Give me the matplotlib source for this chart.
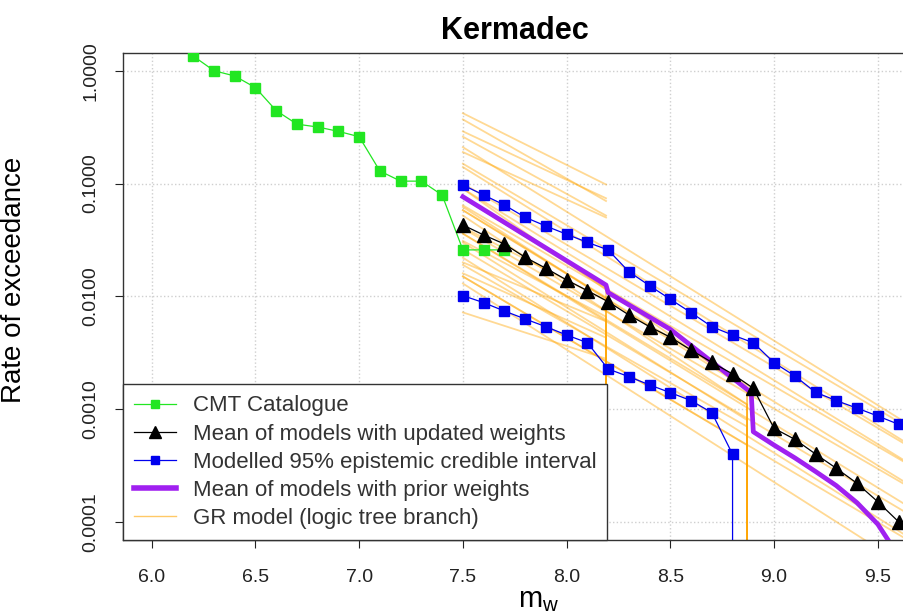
import matplotlib.pyplot as plt
from matplotlib.lines import Line2D

plt.rcParams['font.family'] = ['Liberation Sans', 'DejaVu Sans']

# CMT catalogue, observed exceedance rates
cmt_mw = [6.2, 6.3, 6.4, 6.5, 6.6, 6.7, 6.8, 6.9, 7.0, 7.1, 7.2, 7.3, 7.4, 7.5, 7.6, 7.7]
cmt_rate = [1.35, 1.00, 0.898, 0.708, 0.443, 0.336, 0.317, 0.290, 0.260, 0.129,
            0.105, 0.105, 0.079, 0.0258, 0.0258, 0.0258]

# model magnitudes
model_mw = [7.5, 7.6, 7.7, 7.8, 7.9, 8.0, 8.1, 8.2, 8.3, 8.4, 8.5,
            8.6, 8.7, 8.8, 8.9, 9.0, 9.1, 9.2, 9.3, 9.4, 9.5, 9.6]
mean_updated = [0.0429, 0.0350, 0.0291, 0.0222, 0.01773, 0.01397, 0.01123, 0.00897,
                0.00684, 0.00538, 0.00434, 0.00334, 0.00260, 0.00205, 0.00153,
                0.000676, 0.000540, 0.000400, 0.000299, 0.000220, 0.000151, 0.0001005]
upper95 = [0.0970, 0.0791, 0.0645, 0.0502, 0.0420, 0.0355, 0.0301, 0.0258,
           0.01654, 0.01243, 0.00942, 0.00717, 0.00538, 0.00454, 0.00388,
           0.00258, 0.00197, 0.00141, 0.00119, 0.00102, 0.000869, 0.000734]
lower_mw = [7.5, 7.6, 7.7, 7.8, 7.9, 8.0, 8.1, 8.2, 8.3, 8.4, 8.5, 8.6, 8.7, 8.8, 8.9]
lower95 = [0.01014, 0.00879, 0.00741, 0.00630, 0.00538, 0.00454, 0.00388, 0.00227,
           0.00194, 0.00164, 0.00140, 0.00119, 0.000931, 0.000398, 0.0]

# mean of models with prior weights
prior_mw = [7.5, 8.19, 8.2, 8.5, 8.89, 8.9, 9.0, 9.1, 9.2, 9.3, 9.4, 9.5, 9.6]
prior_rate = [0.0763, 0.0126, 0.0108, 0.0051, 0.00140, 0.00063, 0.00048,
              0.00037, 0.00028, 0.00021, 0.000148, 0.0000955, 0.00005]

# GR logic tree branches: rate at Mw 7.5, last magnitude, rate there, drops to zero
gr_start = [0.42, 0.37, 0.29, 0.26, 0.19, 0.075, 0.058, 0.041, 0.031, 0.020, 0.016, 0.0072,
            0.090, 0.062, 0.052, 0.036, 0.030, 0.019, 0.015,
            0.21, 0.15, 0.14, 0.10, 0.090, 0.064, 0.058, 0.040, 0.036, 0.026, 0.022, 0.015, 0.013]
gr_end_mw = [8.19] * 12 + [8.87] * 7 + [9.64] * 13
gr_end = [0.098, 0.070, 0.074, 0.052, 0.050, 0.012, 0.0098, 0.0092, 0.0066, 0.0060, 0.0043, 0.0028,
          0.0015, 0.0015, 0.0011, 0.0011, 0.0008, 0.0007, 0.00048,
          0.00075, 0.00070, 0.00050, 0.00048, 0.00034, 0.00033, 0.00022, 0.00021,
          0.00014, 0.00012, 0.000075, 0.00007, 0.00004]
gr_drop = [False] * 5 + [True] * 7 + [True] * 7 + [False] * 13

fig = plt.figure(figsize=(9.04, 6.16), dpi=100)
ax = fig.add_axes([0.1357, 0.1234, 0.8674, 0.7911])
ax.set_yscale('log')

orange = '#ffa500'
for r0, m1, r1, drop in zip(gr_start, gr_end_mw, gr_end, gr_drop):
    xs = [7.5, m1]
    ys = [r0, r1]
    if drop:
        xs.append(m1)
        ys.append(0.0)
    ax.plot(xs, ys, color=orange, lw=1.3, alpha=0.42, zorder=2)

ax.plot(prior_mw, prior_rate, color='#a020f0', lw=3.4, zorder=3)
ax.plot(model_mw, upper95, color='#0000ee', lw=0.9, marker='s', ms=7, zorder=4)
ax.plot(lower_mw, lower95, color='#0000ee', lw=0.9, marker='s', ms=7, zorder=4)
ax.plot(cmt_mw, cmt_rate, color='#22e622', lw=0.9, marker='s', ms=6.5, zorder=4)
ax.plot(model_mw, mean_updated, color='black', lw=0.9, marker='^', ms=10, zorder=5)

ax.set_xlim(5.86, 9.64)
ax.set_ylim(10 ** -4.16, 10 ** 0.16)

ax.set_xticks([6.0, 6.5, 7.0, 7.5, 8.0, 8.5, 9.0, 9.5])
ax.set_xticklabels(['6.0', '6.5', '7.0', '7.5', '8.0', '8.5', '9.0', '9.5'])
ax.set_yticks([1e-4, 1e-3, 1e-2, 1e-1, 1.0])
ax.set_yticklabels(['0.0001', '0.0010', '0.0100', '0.1000', '1.0000'],
                   rotation=90, va='center')
ax.minorticks_off()
ax.tick_params(axis='both', direction='out', length=6, width=0.8,
               labelsize=14, colors='#222222')
ax.tick_params(axis='x', pad=15)
ax.tick_params(axis='y', pad=11)
ax.grid(True, color='#cfcfcf', linestyle=':', lw=1)
ax.set_axisbelow(True)
for s in ax.spines.values():
    s.set_color('#333333')
    s.set_linewidth(1)

ax.set_title('Kermadec', fontsize=22, fontweight='bold', pad=10)
ax.set_xlabel(r'$\mathregular{m_w}$', fontsize=21)
ax.xaxis.set_label_coords(0.531, -0.095)
ax.set_ylabel('Rate of exceedance', fontsize=20)
ax.yaxis.set_label_coords(-0.122, 0.533)

handles = [
    Line2D([], [], color='#22e622', lw=0.9, marker='s', ms=6),
    Line2D([], [], color='black', lw=0.9, marker='^', ms=8),
    Line2D([], [], color='#0000ee', lw=0.9, marker='s', ms=6),
    Line2D([], [], color='#a020f0', lw=4),
    Line2D([], [], color=orange, lw=1, alpha=0.6),
]
labels = ['CMT Catalogue', 'Mean of models with updated weights',
          'Modelled 95% epistemic credible interval',
          'Mean of models with prior weights', 'GR model (logic tree branch)']
leg = ax.legend(handles, labels, loc='lower left', fontsize=16, frameon=True,
                fancybox=False, edgecolor='#333333', framealpha=1,
                borderaxespad=0, borderpad=0.5, labelspacing=0.32,
                handlelength=1.9, handletextpad=0.75)
leg.get_frame().set_linewidth(1)
for t in leg.get_texts():
    t.set_color('#333333')

fig.savefig('out.png', dpi=100)
